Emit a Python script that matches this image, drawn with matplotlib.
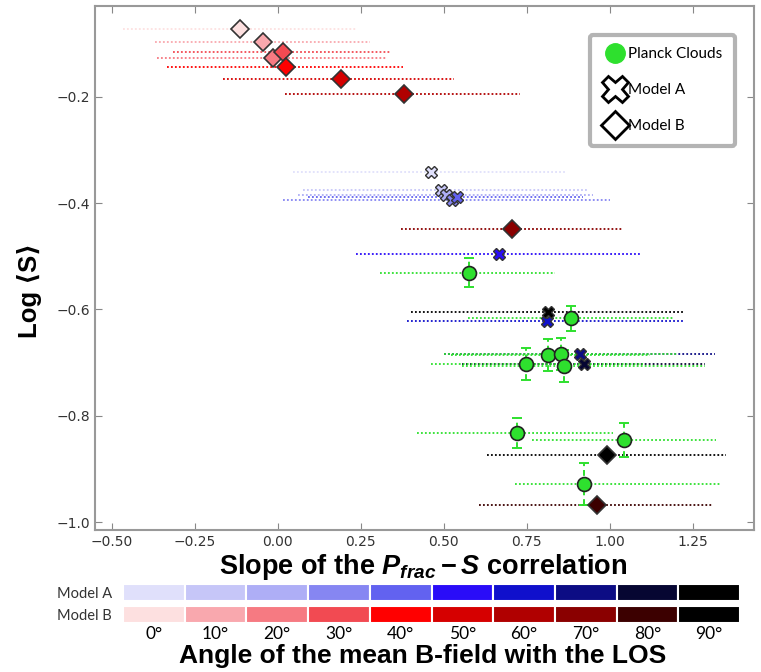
import numpy as np
import matplotlib

matplotlib.use("Agg")
import matplotlib.pyplot as plt
from matplotlib.lines import Line2D

plt.rcParams["font.family"] = ["DejaVu Sans"]
plt.rcParams["mathtext.fontset"] = "custom"
plt.rcParams["mathtext.it"] = "Liberation Sans:bold:italic"
plt.rcParams["mathtext.rm"] = "Liberation Sans:bold"
plt.rcParams["mathtext.bf"] = "Liberation Sans:bold"

angles = [0, 10, 20, 30, 40, 50, 60, 70, 80, 90]

# Model A (crosses), one per angle
ma_x = [0.460, 0.490, 0.505, 0.524, 0.539, 0.667, 0.809, 0.910, 0.922, 0.812]
ma_y = [-0.341, -0.376, -0.385, -0.394, -0.388, -0.496, -0.621, -0.684, -0.703, -0.604]
ma_lo = [0.045, 0.075, 0.060, 0.015, 0.090, 0.235, 0.390, 0.500, 0.553, 0.400]
ma_hi = [0.865, 0.930, 0.950, 1.000, 0.920, 1.095, 1.226, 1.316, 1.286, 1.226]

# Model B (diamonds), one per angle
mb_x = [-0.114, -0.044, -0.016, 0.014, 0.024, 0.189, 0.380, 0.706, 0.960, 0.992]
mb_y = [-0.072, -0.096, -0.127, -0.115, -0.144, -0.166, -0.194, -0.449, -0.968, -0.874]
mb_lo = [-0.467, -0.370, -0.365, -0.317, -0.335, -0.165, 0.020, 0.370, 0.606, 0.629]
mb_hi = [0.238, 0.277, 0.327, 0.342, 0.377, 0.530, 0.730, 1.040, 1.310, 1.351]

# Planck clouds
pl_x = [0.577, 0.882, 0.812, 0.852, 0.746, 0.861, 0.721, 1.042, 0.923]
pl_y = [-0.531, -0.617, -0.686, -0.684, -0.702, -0.707, -0.833, -0.845, -0.928]
pl_yerr = [0.027, 0.024, 0.030, 0.030, 0.030, 0.030, 0.028, 0.032, 0.040]
pl_lo = [0.307, 0.572, 0.520, 0.500, 0.462, 0.553, 0.418, 0.764, 0.714]
pl_hi = [0.834, 1.190, 1.120, 1.200, 1.100, 1.286, 1.010, 1.320, 1.331]

a_colors = ["#e0e0fb", "#c6c6f8", "#aeaef6", "#8686f2", "#6262f0",
            "#2a0cf8", "#1010cc", "#0c0c84", "#060632", "#000000"]
b_colors = ["#fde0e0", "#f9a8ae", "#f67a82", "#f24a52", "#ff0000",
            "#d60000", "#b00000", "#8a0000", "#3c0000", "#000000"]
green = "#2ee02e"

W, H = 761, 672
fig = plt.figure(figsize=(W / 100, H / 100), dpi=100)
ax = fig.add_axes([95 / W, 1 - 530 / H, (754 - 95) / W, (530 - 6) / H])

dots = (0, (1, 1.2))
ax.hlines(ma_y, ma_lo, ma_hi, colors=a_colors, linestyles=dots, lw=1.3, zorder=1)
ax.hlines(mb_y, mb_lo, mb_hi, colors=b_colors, linestyles=dots, lw=1.3, zorder=1)
ax.hlines(pl_y, pl_lo, pl_hi, colors=green, linestyles=dots, lw=1.3, zorder=1)

eb = ax.errorbar(pl_x, pl_y, yerr=pl_yerr, fmt="none", ecolor=green,
                 elinewidth=1.4, capsize=3.5, capthick=1.4, zorder=2)
eb[2][0].set_linestyle((0, (3, 2)))

for x, y, c in zip(ma_x, ma_y, a_colors):
    ax.plot(x, y, marker="X", ms=8, mfc=c, mec="#333333", mew=1.0, ls="none", zorder=3)
for x, y, c in zip(mb_x, mb_y, b_colors):
    ax.plot(x, y, marker="D", ms=9, mfc=c, mec="#333333", mew=1.2, ls="none", zorder=3)
ax.plot(pl_x, pl_y, "o", ms=10, mfc=green, mec="#222222", mew=1.2, ls="none", zorder=4)

ax.set_xlim(-0.551, 1.434)
ax.set_ylim(-1.015, -0.029)
ax.set_xticks([-0.5, -0.25, 0.0, 0.25, 0.5, 0.75, 1.0, 1.25])
ax.set_yticks([-1.0, -0.8, -0.6, -0.4, -0.2])
ax.tick_params(direction="in", top=True, right=True, length=5, color="#888888",
               labelsize=10, labelcolor="#333333")
for s in ax.spines.values():
    s.set_color("#999999")
    s.set_linewidth(1.5)

handles = [
    Line2D([], [], marker="o", ls="none", ms=14, mfc=green, mec=green),
    Line2D([], [], marker="X", ls="none", ms=19, mfc="white", mec="black", mew=2),
    Line2D([], [], marker="D", ls="none", ms=14, mfc="white", mec="black", mew=2),
]
leg = ax.legend(handles, ["Planck Clouds", "Model A", "Model B"],
                loc="upper right", bbox_to_anchor=(0.971, 0.945), borderaxespad=0,
                prop={"family": "Lato", "size": 11}, labelspacing=1.45,
                handletextpad=0.1, handlelength=1.6, borderpad=0.8,
                fancybox=True, framealpha=1)
leg.get_frame().set_edgecolor("#b4b4b4")
leg.get_frame().set_linewidth(3)

bold_font = ["Liberation Sans"]
fig.text(423 / W, 1 - 567 / H, r"Slope of the $P_{frac} - S$ correlation",
         ha="center", va="center", fontsize=19.5, fontweight="bold", family=bold_font)
fig.text(30 / W, 1 - 290 / H, "Log ⟨S⟩", rotation=90, ha="center", va="center",
         fontsize=18.5, fontweight="bold", family=["Liberation Sans", "DejaVu Sans"])

# angle key below the plot
cax = fig.add_axes([123 / W, 1 - 623 / H, 617 / W, 39 / H])
cells = np.arange(len(angles))
cax.bar(cells, 0.77, bottom=1 - 0.386, width=1, align="edge", color=a_colors,
        edgecolor="white", linewidth=1.5)
cax.bar(cells, 0.77, bottom=0 - 0.386, width=1, align="edge", color=b_colors,
        edgecolor="white", linewidth=1.5)
cax.set_xlim(0, len(angles))
cax.set_ylim(-0.386, 1.386)
cax.set_xticks(cells + 0.5, [f"{a}°" for a in angles])
cax.set_yticks([1, 0], ["Model A", "Model B"])
cax.tick_params(axis="x", length=0, pad=2, labelsize=12.5)
cax.tick_params(axis="y", length=0, pad=8, labelsize=10.5, labelcolor="#333333")
for lab in cax.get_xticklabels() + cax.get_yticklabels():
    lab.set_family("Lato")
for s in cax.spines.values():
    s.set_visible(False)

fig.text(423 / W, 1 - 656 / H, "Angle of the mean B-field with the LOS",
         ha="center", va="center", fontsize=19, fontweight="bold", family=bold_font)

fig.savefig("out.png", dpi=100)
